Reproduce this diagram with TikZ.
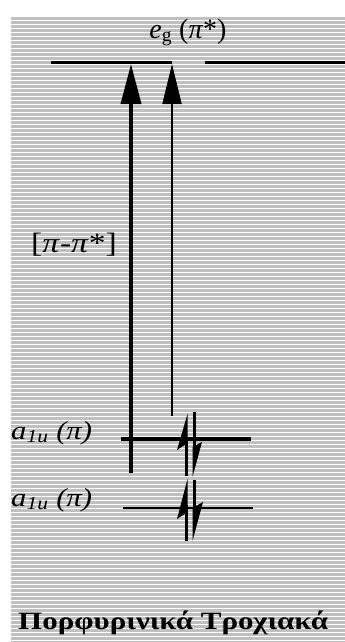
\documentclass[tikz,border=0pt]{standalone}
\usepackage{graphicx}
\usepackage{fontspec}
\setmainfont{Liberation Serif}
\usetikzlibrary{arrows.meta}
\definecolor{bgline}{HTML}{C0C0C0}
\tikzset{
  levelthick/.style={line width=3.2pt},
  levelthin/.style={line width=2pt},
  bigarrow/.style={line width=3.6pt, -{Triangle[length=40pt,width=20pt]}},
  thinarrow/.style={line width=2pt, -{Triangle[length=40pt,width=19pt]}},
  lbl/.style={inner sep=0pt, anchor=base},
  lbll/.style={lbl, anchor=base west},
  spin/.style={line width=3pt},
  spinhead/.style={fill=black},
  titlestyle/.style={font=\fontsize{25}{30}\selectfont\bfseries, inner sep=0pt, anchor=base west}
}
\begin{document}
\begin{tikzpicture}[x=1pt,y=-1pt]
\useasboundingbox (0,0) rectangle (345,642);
% lined background
\foreach \yy in {17,21,...,641} \fill[bgline] (11,\yy) rectangle (345,{min(\yy+3,642)});
% coordinates
\coordinate (egL1) at (51,62.7);
\coordinate (egL2) at (172,62.7);
\coordinate (egR1) at (205,62.7);
\coordinate (egR2) at (345,62.7);
\coordinate (a1L) at (121,439);
\coordinate (a1R) at (251,439);
\coordinate (a2L) at (123,508);
\coordinate (a2R) at (253,508);
\coordinate (bigS) at (131,473);
\coordinate (bigE) at (131,64);
\coordinate (thS) at (172,416);
\coordinate (thE) at (172,64);
% levels
\draw[levelthick] (egL1) -- (egL2);
\draw[levelthick] (egR1) -- (egR2);
\draw[levelthick] (a1L) -- (a1R);
\draw[levelthin] (a2L) -- (a2R);
% transition arrows
\draw[bigarrow] (bigS) -- (bigE);
\draw[thinarrow] (thS) -- (thE);
% electron pair, upper level
\draw[spin] (186,476) -- (186,440);
\fill[spinhead] (187.5,414) -- (177,450) -- (187.5,443) -- cycle;
\draw[spin] (194,412) -- (194,450);
\fill[spinhead] (192.5,477) -- (202,442) -- (192.5,447) -- cycle;
% electron pair, lower level
\draw[spin] (186,541) -- (186,505);
\fill[spinhead] (187.5,479) -- (177,519) -- (187.5,512) -- cycle;
\draw[spin] (194,480) -- (194,510);
\fill[spinhead] (192.5,541) -- (203,502) -- (192.5,508) -- cycle;
% labels
\node[lbl, font=\fontsize{28}{32}\selectfont] (eglab) at (188,38) {\textit{e}\textsubscript{g} (\textit{π}*)};
\node[lbl, font=\fontsize{28}{32}\selectfont] (pplab) at (74,252) {\scalebox{1.2}[1]{[\textit{π}-\textit{π}*]}};
\node[lbll, font=\fontsize{26}{30}\selectfont] (a1lab) at (11,439) {\scalebox{1.18}[1]{\textit{a\textsubscript{1u} (π)}}};
\node[lbll, font=\fontsize{26}{30}\selectfont] (a2lab) at (11,506) {\scalebox{1.18}[1]{\textit{a\textsubscript{1u} (π)}}};
\node[titlestyle] (title) at (18,629) {\scalebox{1.24}[1]{Πορφυρινικά Τροχιακά}};
\end{tikzpicture}
\end{document}
